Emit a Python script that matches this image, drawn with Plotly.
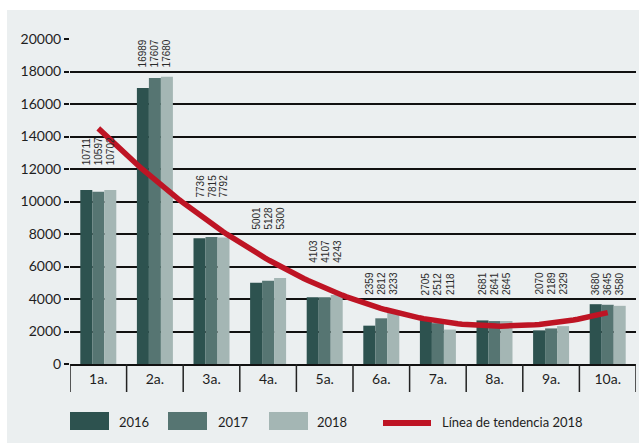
import numpy as np
import plotly.graph_objects as go

# ---- data ----
categories = ["1a.", "2a.", "3a.", "4a.", "5a.", "6a.", "7a.", "8a.", "9a.", "10a."]
values_2016 = [10711, 16989, 7736, 5001, 4103, 2359, 2705, 2681, 2070, 3680]
values_2017 = [10597, 17607, 7815, 5128, 4107, 2812, 2512, 2641, 2189, 3645]
values_2018 = [10702, 17680, 7792, 5300, 4243, 3233, 2118, 2645, 2329, 3580]
y_ticks = [0, 2000, 4000, 6000, 8000, 10000, 12000, 14000, 16000, 18000, 20000]
series_names = ["2016", "2017", "2018"]
trend_name = "Línea de tendencia 2018"

# label rows (gridline just above which each group's value labels sit)
label_rows = [12000, 18000, 10000, 8000, 6000, 4000, 4000, 4000, 4000, 4000]

# ---- styles ----
W, H = 639, 443
ML, MR, MT, MB = 70, 3, 39, 79
PW, PH = W - ML - MR, H - MT - MB
BG = "#ebeff0"
COLORS = ["#2d524f", "#567572", "#a4b6b4"]
RED = "#be1424"
TICKFONT = dict(family="Lato, Open Sans, sans-serif", size=14, color="#1e1e1e")
LEGFONT = dict(family="Lato, Open Sans, sans-serif", size=13, color="#1e1e1e")
LABELFONT = dict(family="Liberation Sans Narrow, Arial Narrow, Liberation Sans, Arial", size=10, color="#2a2a2a")


def px_x(p):
    return (p - ML) / PW


def px_y(p):
    return (H - MB - p) / PH


fig = go.Figure()
series = [values_2016, values_2017, values_2018]
for name, vals, col in zip(series_names, series, COLORS):
    fig.add_trace(go.Bar(x=categories, y=vals, name=name, marker=dict(color=col, line=dict(width=0)),
                         showlegend=False, hoverinfo="x+y+name"))

# quadratic trend line on 2018 values
idx = np.arange(len(categories))
coef = np.polyfit(idx, values_2018, 2)
xs = np.linspace(0, len(categories) - 1, 120)
fig.add_trace(go.Scatter(x=xs, y=np.polyval(coef, xs), mode="lines", name=trend_name,
                         line=dict(color=RED, width=5.5), xaxis="x2", showlegend=False))

# value labels (rotated)
bar_w = PW / len(categories) * (1 - 0.364) / 3
for i, cat in enumerate(categories):
    for k, vals in enumerate(series):
        fig.add_annotation(x=cat, y=label_rows[i], text=str(vals[i]), showarrow=False,
                           textangle=-90, xanchor="center", yanchor="bottom",
                           xshift=(k - 1) * bar_w, yshift=2, font=LABELFONT)

# category separators below the axis
for b in range(len(categories) + 1):
    fig.add_shape(type="line", xref="x2", yref="paper", x0=b - 0.5, x1=b - 0.5,
                  y0=0, y1=px_y(392), line=dict(color="#222", width=1.5))

# custom legend
leg_y_top, leg_y_bot, leg_y_mid = 412, 430, 422
rects = [(70, 109, 117), (168, 207, 216), (269, 308, 315)]
for (x0, x1, tx), name, col in zip(rects, series_names, COLORS):
    fig.add_shape(type="rect", xref="paper", yref="paper", x0=px_x(x0), x1=px_x(x1),
                  y0=px_y(leg_y_bot), y1=px_y(leg_y_top), fillcolor=col, line=dict(width=0))
    fig.add_annotation(xref="paper", yref="paper", x=px_x(tx), y=px_y(leg_y_mid), text=name,
                       showarrow=False, xanchor="left", yanchor="middle", font=LEGFONT)
fig.add_shape(type="line", xref="paper", yref="paper", x0=px_x(383), x1=px_x(431),
              y0=px_y(423), y1=px_y(423), line=dict(color=RED, width=6))
fig.add_annotation(xref="paper", yref="paper", x=px_x(440), y=px_y(leg_y_mid), text=trend_name,
                   showarrow=False, xanchor="left", yanchor="middle", font=LEGFONT)

# white border strips (left / top)
fig.add_shape(type="rect", xref="paper", yref="paper", x0=px_x(-5), x1=px_x(7), y0=px_y(H + 5), y1=px_y(-5),
              fillcolor="white", line=dict(width=0), layer="below")
fig.add_shape(type="rect", xref="paper", yref="paper", x0=px_x(-5), x1=px_x(W + 5), y0=px_y(10), y1=px_y(-5),
              fillcolor="white", line=dict(width=0), layer="below")

fig.update_layout(
    width=W, height=H,
    margin=dict(l=ML, r=MR, t=MT, b=MB, autoexpand=False),
    paper_bgcolor=BG, plot_bgcolor=BG,
    barmode="group", bargap=0.364, bargroupgap=0,
    showlegend=False,
    xaxis=dict(type="category", ticks="", showline=True, linecolor="#111", linewidth=1.5, showgrid=False,
               tickfont=TICKFONT, ticklabelstandoff=1, range=[-0.5, 9.5], fixedrange=True, automargin=False),
    xaxis2=dict(overlaying="x", range=[-0.5, 9.5], visible=False, fixedrange=True),
    yaxis=dict(range=[0, 20000], tickvals=y_ticks, ticktext=[str(v) for v in y_ticks],
               showgrid=True, gridcolor="#111", gridwidth=1.5, zeroline=False,
               ticks="outside", ticklen=5, tickwidth=1.5, tickcolor="#111",
               tickfont=TICKFONT, showline=False, fixedrange=True, automargin=False),
)

fig.write_html("out.html", config={"displayModeBar": False},
               post_script="document.body.style.margin='0';document.body.style.overflow='hidden';"
                           "document.body.style.background='white';")
